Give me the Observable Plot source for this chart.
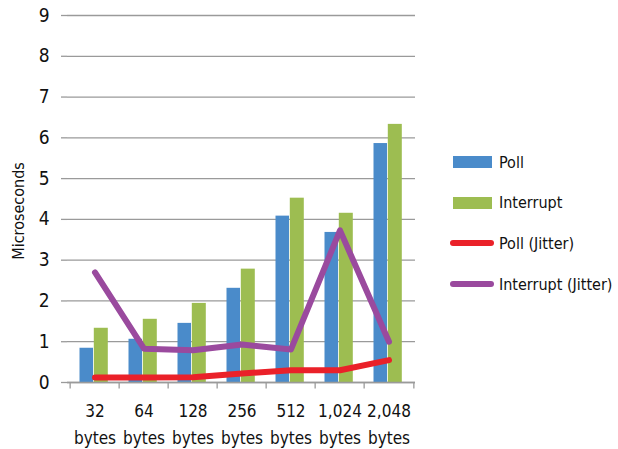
<!DOCTYPE html>
<html>
<head>
<meta charset="utf-8">
<script src="https://cdn.jsdelivr.net/npm/d3@7"></script>
<script src="https://cdn.jsdelivr.net/npm/@observablehq/plot@0.6"></script>
<style>
  body { margin: 0; background: #fff; }
  #wrap { position: relative; width: 618px; height: 449px; overflow: hidden; font-family: "Liberation Sans Narrow", "DejaVu Sans Condensed", sans-serif; }
  #legend { position: absolute; left: 450px; top: 142px; font-size: 16px; color: #111; white-space: nowrap; }
  .item { display: flex; align-items: center; height: 40.6px; }
  .sw { width: 44px; display: flex; justify-content: center; align-items: center; margin-right: 5px; }
</style>
</head>
<body>
<div id="wrap"><div id="chart"></div><div id="legend"></div></div>
<script>
const categories = ["32 bytes", "64 bytes", "128 bytes", "256 bytes", "512 bytes", "1,024 bytes", "2,048 bytes"];
const poll = [0.84, 1.06, 1.45, 2.31, 4.08, 3.68, 5.86];
const interrupt = [1.33, 1.55, 1.94, 2.78, 4.52, 4.15, 6.33];
const pollJitter = [0.12, 0.12, 0.13, 0.22, 0.30, 0.30, 0.55];
const interruptJitter = [2.70, 0.83, 0.79, 0.93, 0.81, 3.73, 1.00];
const yTicks = [0, 1, 2, 3, 4, 5, 6, 7, 8, 9];
const seriesNames = ["Poll", "Interrupt", "Poll (Jitter)", "Interrupt (Jitter)"];
const colors = ["#4a8bca", "#9dbd51", "#ea2129", "#9a4a9e"];

const rows = categories.map((c, i) => ({
  cat: c, poll: poll[i], interrupt: interrupt[i], pj: pollJitter[i], ij: interruptJitter[i]
}));

const font = '"Liberation Sans Narrow", "DejaVu Sans Condensed", sans-serif';
const bw = (618 - 67 - 203) / categories.length;
const grey = "#9a9a9a";

const chart = Plot.plot({
  width: 618,
  height: 449,
  marginLeft: 67,
  marginRight: 203,
  marginTop: 15,
  marginBottom: 67,
  style: { fontFamily: font, fontSize: "18px", color: "#111", background: "#fff", overflow: "visible" },
  x: { domain: categories, padding: 0, label: null },
  y: { domain: [0, 9], label: null },
  marks: [
    Plot.gridY(yTicks, { stroke: grey, strokeOpacity: 1, strokeWidth: 1.3 }),
    Plot.barY(rows, { x: "cat", y: "poll", fill: colors[0], insetLeft: 9.5, insetRight: 26 }),
    Plot.barY(rows, { x: "cat", y: "interrupt", fill: colors[1], insetLeft: 23.8, insetRight: 11.2 }),
    Plot.ruleY([0], { stroke: grey, strokeWidth: 1.3 }),
    Plot.ruleX(categories, { x: d => d, y1: 0, y2: -0.16, dx: -bw / 2, stroke: grey, strokeWidth: 1.3 }),
    Plot.ruleX([categories[categories.length - 1]], { x: d => d, y1: 0, y2: -0.16, dx: bw / 2, stroke: grey, strokeWidth: 1.3 }),
    Plot.line(rows, { x: "cat", y: "pj", stroke: colors[2], strokeWidth: 6, strokeLinecap: "round", strokeLinejoin: "round" }),
    Plot.line(rows, { x: "cat", y: "ij", stroke: colors[3], strokeWidth: 6, strokeLinecap: "round", strokeLinejoin: "round" }),
    Plot.axisY(yTicks, { tickSize: 6, tickPadding: 12, stroke: grey, strokeWidth: 1.3, fontSize: 19, tickFormat: d => String(d) }),
    Plot.ruleX([0], { frameAnchor: "left", stroke: grey, strokeWidth: 1.3 }),
    Plot.axisX({ tickSize: 0, tickPadding: 16, fontSize: 17, lineHeight: 1.55, tickFormat: d => d.replace(" ", "\n") }),
    Plot.text(["Microseconds"], { frameAnchor: "left", textAnchor: "middle", dx: -49, dy: 12, rotate: -90, fontSize: 16, text: d => d })
  ]
});
document.getElementById("chart").append(chart);

const legend = document.getElementById("legend");
seriesNames.forEach((name, i) => {
  const item = document.createElement("div");
  item.className = "item";
  const sw = document.createElement("div");
  sw.className = "sw";
  const inner = document.createElement("div");
  if (i < 2) {
    inner.style.cssText = `width:39px;height:12px;background:${colors[i]}`;
  } else {
    inner.style.cssText = `width:44px;height:6px;border-radius:3px;background:${colors[i]}`;
  }
  sw.append(inner);
  const label = document.createElement("span");
  label.textContent = name;
  item.append(sw, label);
  legend.append(item);
});
</script>
</body>
</html>
